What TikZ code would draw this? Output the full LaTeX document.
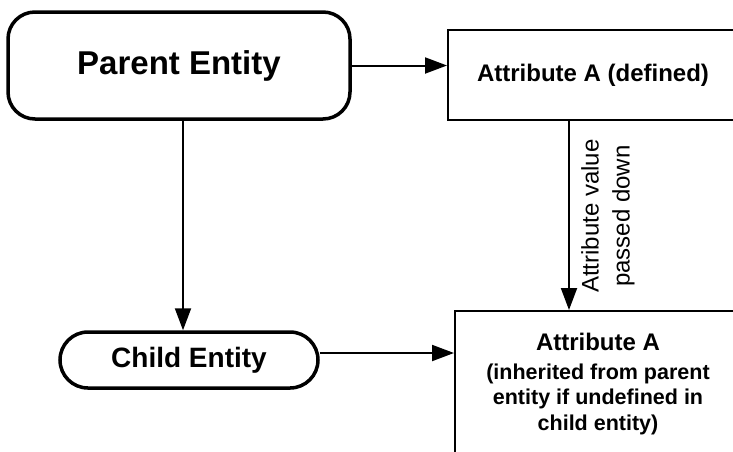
\documentclass[tikz,border=0pt]{standalone}
\usepackage{fontspec}
\setmainfont{Liberation Sans}
\usetikzlibrary{arrows.meta}
\begin{document}
\begin{tikzpicture}[x=1pt,y=1pt,
  entity/.style={draw=black,line width=3.5pt,rounded corners=#1,inner sep=0pt,font=\bfseries},
  attrbox/.style={draw=black,line width=2pt,inner sep=0pt},
  arr/.style={line width=2pt,-{Triangle[length=22pt,width=16pt]}},
  lbl/.style={inner sep=0pt,align=center}]
\useasboundingbox (0,0) rectangle (733,-451);
\fill[white] (0,0) rectangle (733,-451);
\begin{scope}
\clip (0,0) rectangle (733,-451);
\node[entity=27pt,minimum width=342pt,minimum height=107pt] (parent) at (179,-65.5) {\fontsize{33}{38}\selectfont Parent Entity};
\node[entity=28pt,minimum width=258pt,minimum height=56pt] (child) at (189,-360) {\fontsize{28}{34}\selectfont Child Entity};
\node[attrbox,minimum width=290pt,minimum height=90pt] (box1) at (593,-75) {};
\node[lbl,font=\bfseries\fontsize{24}{29}\selectfont] (t1) at (box1.center) {Attribute A (defined)};
\node[attrbox,minimum width=286pt,minimum height=142pt] (box2) at (598,-382) {};
\node[lbl,font=\bfseries\fontsize{21.5}{25.5}\selectfont] (t2) at (598,-384) {{\fontsize{24}{26}\selectfont Attribute A}\\[3pt]
  (inherited from parent\\ entity if undefined in\\ child entity)};
\coordinate (vx) at (183,0);
\coordinate (ax) at (569,0);
\coordinate (hy) at (0,-353);
\draw[arr] (parent.east) -- (parent.east -| box1.west);
\draw[arr] (vx |- parent.south) -- (vx |- child.north);
\draw[arr] (ax |- box1.south) -- (ax |- box2.north);
\draw[arr] (child.east |- hy) -- (box2.west |- hy);
\node[lbl,rotate=90,font=\fontsize{24}{31}\selectfont] (lab) at (608,-216) {Attribute value\\passed down};
\end{scope}
\end{tikzpicture}
\end{document}
